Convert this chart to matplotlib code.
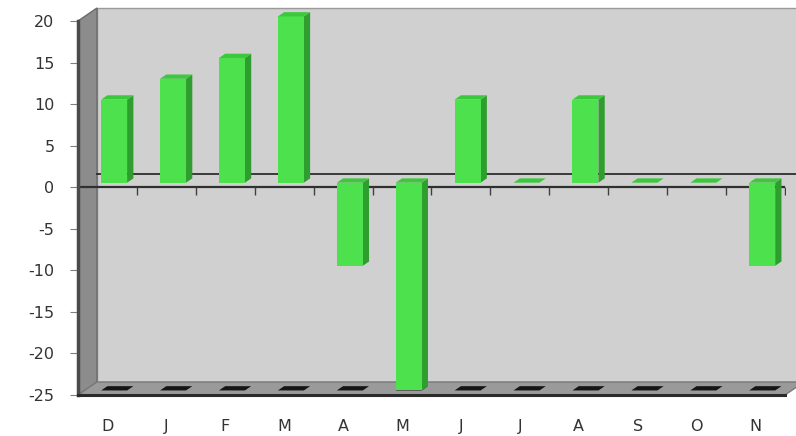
import matplotlib
matplotlib.use('Agg')
import matplotlib.pyplot as plt
from matplotlib.patches import Polygon
from matplotlib.markers import TICKDOWN

# chart data
months = ['D', 'J', 'F', 'M', 'A', 'M', 'J', 'J', 'A', 'S', 'O', 'N']
values = [10, 12.5, 15, 20, -10, -25, 10, 0, 10, 0, 0, -10]
y_ticks = [20, 15, 10, 5, 0, -5, -10, -15, -20, -25]

Y_MIN, Y_MAX = -25, 20

# colours
WALL = '#D0D0D0'
SIDE_WALL = '#8C8C8C'
FLOOR = '#9A9A9A'
BAR_FRONT = '#4DE24D'
BAR_SIDE = '#2E9E2E'
BAR_TOP = '#3CC83C'


def main():
    fig = plt.figure(figsize=(7.96, 4.36), dpi=100)
    ax = fig.add_axes([78 / 796, 41 / 436, 707 / 796, 374 / 436])
    n = len(months)
    x0, x1 = -0.5, n - 0.5
    ax.set_xlim(x0, x1)
    ax.set_ylim(Y_MIN, Y_MAX)

    # pixel size in data units, used for the fake 3D depth
    px_x = n / 707.0
    px_y = (Y_MAX - Y_MIN) / 374.0
    DX, DY = 19 * px_x, 13 * px_y

    # back wall, left wall, floor
    ax.add_patch(Polygon([(x0 + DX, Y_MIN + DY), (x1 + DX, Y_MIN + DY),
                          (x1 + DX, Y_MAX + DY), (x0 + DX, Y_MAX + DY)],
                         closed=True, fc=WALL, ec='#9A9A9A', lw=1,
                         clip_on=False, zorder=0))
    ax.add_patch(Polygon([(x0, Y_MIN), (x0 + DX, Y_MIN + DY),
                          (x0 + DX, Y_MAX + DY), (x0, Y_MAX)],
                         closed=True, fc=SIDE_WALL, ec='#6A6A6A', lw=1,
                         clip_on=False, zorder=1))
    ax.add_patch(Polygon([(x0, Y_MIN), (x1, Y_MIN),
                          (x1 + DX, Y_MIN + DY), (x0 + DX, Y_MIN + DY)],
                         closed=True, fc=FLOOR, ec='#7A7A7A', lw=1,
                         clip_on=False, zorder=1))

    # zero line on the back wall
    ax.plot([x0 + DX, x1 + DX], [DY, DY], color='#202020', lw=1.2,
            clip_on=False, zorder=2)

    # front zero axis with tick marks at category edges
    ax.plot([x0, x1], [0, 0], color='#303030', lw=1.6, zorder=2)
    edges = [i + 0.5 for i in range(-1, n)]
    ax.plot(edges, [0] * len(edges), ls='none', marker=TICKDOWN,
            markersize=6, color='#404040', zorder=2)

    # front edges: left wall edge and floor edge
    ax.plot([x0, x0], [Y_MIN, Y_MAX], color='#4A4A4A', lw=2.5,
            clip_on=False, zorder=3)
    ax.plot([x0, x1], [Y_MIN, Y_MIN], color='#2A2A2A', lw=2.2,
            clip_on=False, zorder=3)

    # bars
    w = 26 * px_x
    f, b = 0.35, 0.68
    fdx, fdy = f * DX, f * DY
    bdx, bdy = b * DX, b * DY
    for i, v in enumerate(values):
        left, right = i - w / 2, i + w / 2

        # dark marks on the floor under each bar
        ax.add_patch(Polygon([(left + fdx, Y_MIN + fdy),
                              (right + fdx, Y_MIN + fdy),
                              (right + bdx, Y_MIN + bdy),
                              (left + bdx, Y_MIN + bdy)],
                             closed=True, fc='#151515', ec='none',
                             clip_on=False, zorder=2))

        top = max(v, 0)
        if v != 0:
            ax.add_patch(Polygon([(right + fdx, fdy), (right + bdx, bdy),
                                  (right + bdx, v + bdy), (right + fdx, v + fdy)],
                                 closed=True, fc=BAR_SIDE, ec='none',
                                 clip_on=False, zorder=4))
            ax.add_patch(Polygon([(left + fdx, fdy), (right + fdx, fdy),
                                  (right + fdx, v + fdy), (left + fdx, v + fdy)],
                                 closed=True, fc=BAR_FRONT, ec='none',
                                 clip_on=False, zorder=5))
        ax.add_patch(Polygon([(left + fdx, top + fdy), (right + fdx, top + fdy),
                              (right + bdx, top + bdy), (left + bdx, top + bdy)],
                             closed=True, fc=BAR_TOP, ec='none',
                             clip_on=False, zorder=6))

    # axes styling
    for s in ax.spines.values():
        s.set_visible(False)
    ax.set_facecolor('none')
    ax.set_yticks(y_ticks)
    ax.set_yticklabels([str(t) for t in y_ticks])
    ax.tick_params(axis='y', length=6, color='#808080', pad=11,
                   labelsize=11.5, labelcolor='#333333')
    ax.set_xticks(range(n))
    ax.set_xticklabels(months)
    ax.tick_params(axis='x', length=0, pad=17, labelsize=11.5,
                   labelcolor='#333333')

    fig.savefig('out.png', dpi=100, facecolor='white')
    plt.close(fig)


if __name__ == '__main__':
    main()
